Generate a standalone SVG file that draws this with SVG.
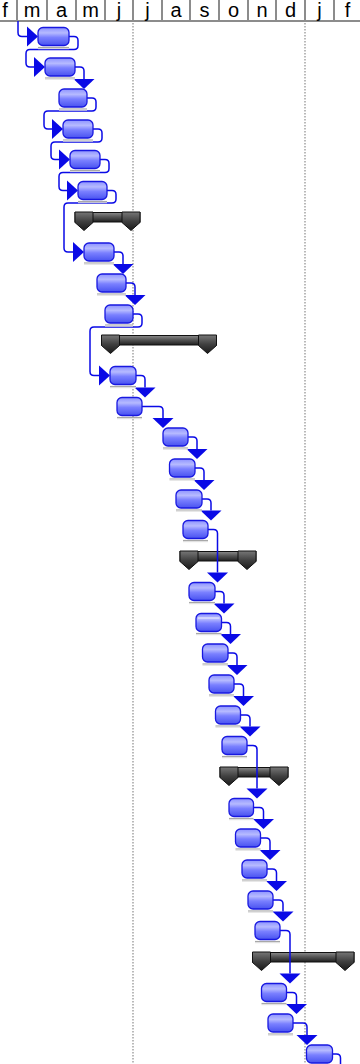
<svg xmlns="http://www.w3.org/2000/svg" width="360" height="1064" viewBox="0 0 360 1064">
<defs>
<linearGradient id="tg" x1="0" y1="0" x2="0" y2="1">
<stop offset="0" stop-color="#8d93ff"/>
<stop offset="0.3" stop-color="#b6baff"/>
<stop offset="0.55" stop-color="#7a80ff"/>
<stop offset="1" stop-color="#4852f0"/>
</linearGradient>
<linearGradient id="sg" x1="0" y1="0" x2="0" y2="1">
<stop offset="0" stop-color="#8c8c8c"/>
<stop offset="0.45" stop-color="#555"/>
<stop offset="1" stop-color="#1e1e1e"/>
</linearGradient>
<linearGradient id="cg" x1="0" y1="0" x2="0" y2="1">
<stop offset="0" stop-color="#777"/>
<stop offset="0.5" stop-color="#404040"/>
<stop offset="1" stop-color="#1a1a1a"/>
</linearGradient>
</defs>
<style>
.hdr{font-family:"Liberation Sans",Arial,sans-serif;font-size:20px;fill:#000;text-anchor:middle}
.sep{stroke:#8c8c8c;stroke-width:2}
.dot{stroke:#8c8c8c;stroke-width:1.2;stroke-dasharray:1.5 1.5}
.bar{fill:url(#tg);stroke:#1818e0;stroke-width:1.3}
.sh1{stroke:#a8a8a8;stroke-width:1.2}
.sh2{stroke:#dcdcdc;stroke-width:1}
.sbar{fill:url(#sg);stroke:#111;stroke-width:1}
.cap{fill:url(#cg);stroke:#111;stroke-width:1}
.ln{fill:none;stroke:#0a0ae6;stroke-width:1.5}
.ah{fill:#0a0ae6}
</style>
<rect x="0" y="0" width="360" height="1064" fill="#fff"/>
<g id="timescale">
<line class="sep" x1="17" y1="0" x2="17" y2="21"/>
<line class="sep" x1="47" y1="0" x2="47" y2="21"/>
<line class="sep" x1="76" y1="0" x2="76" y2="21"/>
<line class="sep" x1="105" y1="0" x2="105" y2="21"/>
<line class="sep" x1="133" y1="0" x2="133" y2="21"/>
<line class="sep" x1="162" y1="0" x2="162" y2="21"/>
<line class="sep" x1="190" y1="0" x2="190" y2="21"/>
<line class="sep" x1="219" y1="0" x2="219" y2="21"/>
<line class="sep" x1="248" y1="0" x2="248" y2="21"/>
<line class="sep" x1="276" y1="0" x2="276" y2="21"/>
<line class="sep" x1="305" y1="0" x2="305" y2="21"/>
<line class="sep" x1="334" y1="0" x2="334" y2="21"/>
<line class="sep" x1="0" y1="21" x2="360" y2="21"/>
<text class="hdr" x="5" y="17">f</text>
<text class="hdr" x="32" y="17">m</text>
<text class="hdr" x="61.5" y="17">a</text>
<text class="hdr" x="90.5" y="17">m</text>
<text class="hdr" x="119" y="17">j</text>
<text class="hdr" x="147.5" y="17">j</text>
<text class="hdr" x="176" y="17">a</text>
<text class="hdr" x="204.5" y="17">s</text>
<text class="hdr" x="233.5" y="17">o</text>
<text class="hdr" x="262" y="17">n</text>
<text class="hdr" x="290.5" y="17">d</text>
<text class="hdr" x="319.5" y="17">j</text>
<text class="hdr" x="347.5" y="17">f</text>
<line class="dot" x1="133" y1="23" x2="133" y2="1064"/>
<line class="dot" x1="305" y1="23" x2="305" y2="1064"/>
</g>
<g id="s1" transform="translate(75,221.5)"><rect class="sbar" x="0" y="-9" width="65" height="9.5"/><polygon class="cap" points="0,-9.5 18,-9.5 18,1 9,9 0,1"/><polygon class="cap" points="47,-9.5 65,-9.5 65,1 56,9 47,1"/></g>
<g id="s2" transform="translate(101.5,344.5)"><rect class="sbar" x="0" y="-9" width="115" height="9.5"/><polygon class="cap" points="0,-9.5 18,-9.5 18,1 9,9 0,1"/><polygon class="cap" points="97,-9.5 115,-9.5 115,1 106,9 97,1"/></g>
<g id="s3" transform="translate(180,560.5)"><rect class="sbar" x="0" y="-9" width="76" height="9.5"/><polygon class="cap" points="0,-9.5 18,-9.5 18,1 9,9 0,1"/><polygon class="cap" points="58,-9.5 76,-9.5 76,1 67,9 58,1"/></g>
<g id="s4" transform="translate(220,776.5)"><rect class="sbar" x="0" y="-9" width="68" height="9.5"/><polygon class="cap" points="0,-9.5 18,-9.5 18,1 9,9 0,1"/><polygon class="cap" points="50,-9.5 68,-9.5 68,1 59,9 50,1"/></g>
<g id="s5" transform="translate(252.5,961.5)"><rect class="sbar" x="0" y="-9" width="101.5" height="9.5"/><polygon class="cap" points="0,-9.5 18,-9.5 18,1 9,9 0,1"/><polygon class="cap" points="83.5,-9.5 101.5,-9.5 101.5,1 92.5,9 83.5,1"/></g>
<g id="connectors">
<path class="ln" d="M18,21 V32.5 Q18,36.5 22,36.5 H28"/><polygon class="ah" points="27,26.5 38,36.5 27,46.5"/>
<path class="ln" d="M69,36.5 H74 Q78,36.5 78,40.5 V45.5 Q78,49.5 74,49.5 H30 Q26,49.5 26,53.5 V63 Q26,67 30,67 H35"/><polygon class="ah" points="34,57 45,67 34,77"/>
<path class="ln" d="M75,67 H80 Q84,67 84,71 V79"/><polygon class="ah" points="73.5,79 94.5,79 84,89"/>
<path class="ln" d="M87,98 H92 Q96,98 96,102 V107 Q96,111 92,111 H48 Q44,111 44,115 V125 Q44,129 48,129 H53"/><polygon class="ah" points="52,119 63,129 52,139"/>
<path class="ln" d="M93,129 H98 Q102,129 102,133 V138 Q102,142 98,142 H55 Q51,142 51,146 V155.5 Q51,159.5 55,159.5 H60"/><polygon class="ah" points="59,149.5 70,159.5 59,169.5"/>
<path class="ln" d="M100,159.5 H105 Q109,159.5 109,163.5 V168.5 Q109,172.5 105,172.5 H63 Q59,172.5 59,176.5 V186.5 Q59,190.5 63,190.5 H68"/><polygon class="ah" points="67,180.5 78,190.5 67,200.5"/>
<path class="ln" d="M107,190.5 H112 Q116,190.5 116,194.5 V199 Q116,203 112,203 H68 Q64,203 64,207 V248 Q64,252 68,252 H74"/><polygon class="ah" points="73,242 84,252 73,262"/>
<path class="ln" d="M114,252 H119 Q123,252 123,256 V264"/><polygon class="ah" points="112.5,264 133.5,264 123,274"/>
<path class="ln" d="M126,283 H131 Q135,283 135,287 V295"/><polygon class="ah" points="124.5,295 145.5,295 135,305"/>
<path class="ln" d="M133,314 H138 Q142,314 142,318 V323 Q142,327 138,327 H94 Q90,327 90,331 V371.5 Q90,375.5 94,375.5 H100"/><polygon class="ah" points="99,365.5 110,375.5 99,385.5"/>
<path class="ln" d="M136,375.5 H141 Q145,375.5 145,379.5 V387.5"/><polygon class="ah" points="134.5,387.5 155.5,387.5 145,397.5"/>
<path class="ln" d="M142,406.5 H159 Q163,406.5 163,410.5 V418"/><polygon class="ah" points="152.5,418 173.5,418 163,428"/>
<path class="ln" d="M188,437 H193 Q197,437 197,441 V449"/><polygon class="ah" points="186.5,449 207.5,449 197,459"/>
<path class="ln" d="M195,468 H200 Q204,468 204,472 V480"/><polygon class="ah" points="193.5,480 214.5,480 204,490"/>
<path class="ln" d="M202,499 H207 Q211,499 211,503 V510.5"/><polygon class="ah" points="200.5,510.5 221.5,510.5 211,520.5"/>
<path class="ln" d="M208,529.5 H213.5 Q217.5,529.5 217.5,533.5 V572.5"/><polygon class="ah" points="207,572.5 228,572.5 217.5,582.5"/>
<path class="ln" d="M215,591.5 H220 Q224,591.5 224,595.5 V603.5"/><polygon class="ah" points="213.5,603.5 234.5,603.5 224,613.5"/>
<path class="ln" d="M221.5,622.5 H226.5 Q230.5,622.5 230.5,626.5 V634"/><polygon class="ah" points="220,634 241,634 230.5,644"/>
<path class="ln" d="M228,653 H233 Q237,653 237,657 V665"/><polygon class="ah" points="226.5,665 247.5,665 237,675"/>
<path class="ln" d="M234,684 H239.5 Q243.5,684 243.5,688 V696"/><polygon class="ah" points="233,696 254,696 243.5,706"/>
<path class="ln" d="M240.5,715 H246 Q250,715 250,719 V726.5"/><polygon class="ah" points="239.5,726.5 260.5,726.5 250,736.5"/>
<path class="ln" d="M247,745.5 H253 Q257,745.5 257,749.5 V788.5"/><polygon class="ah" points="246.5,788.5 267.5,788.5 257,798.5"/>
<path class="ln" d="M253.5,807.5 H259.5 Q263.5,807.5 263.5,811.5 V819"/><polygon class="ah" points="253,819 274,819 263.5,829"/>
<path class="ln" d="M260.5,838 H266 Q270,838 270,842 V850"/><polygon class="ah" points="259.5,850 280.5,850 270,860"/>
<path class="ln" d="M267,869 H272.5 Q276.5,869 276.5,873 V881"/><polygon class="ah" points="266,881 287,881 276.5,891"/>
<path class="ln" d="M273,900 H279 Q283,900 283,904 V911.5"/><polygon class="ah" points="272.5,911.5 293.5,911.5 283,921.5"/>
<path class="ln" d="M280,930.5 H286 Q290,930.5 290,934.5 V973.5"/><polygon class="ah" points="279.5,973.5 300.5,973.5 290,983.5"/>
<path class="ln" d="M286.5,992.5 H292.5 Q296.5,992.5 296.5,996.5 V1004"/><polygon class="ah" points="286,1004 307,1004 296.5,1014"/>
<path class="ln" d="M293,1023 H303 Q307,1023 307,1027 V1035"/><polygon class="ah" points="296.5,1035 317.5,1035 307,1045"/>
<path class="ln" d="M332.5,1054 H336.5 Q340.5,1054 340.5,1058 V1064"/>
</g>
<g id="t1" transform="translate(38,36.5)"><line class="sh1" x1="0" y1="11" x2="31" y2="11"/><line class="sh2" x1="0" y1="12.2" x2="31" y2="12.2"/><rect class="bar" x="0" y="-9" width="31" height="18" rx="5"/></g>
<g id="t2" transform="translate(45,67)"><line class="sh1" x1="0" y1="11" x2="30" y2="11"/><line class="sh2" x1="0" y1="12.2" x2="30" y2="12.2"/><rect class="bar" x="0" y="-9" width="30" height="18" rx="5"/></g>
<g id="t3" transform="translate(59,98)"><line class="sh1" x1="0" y1="11" x2="28" y2="11"/><line class="sh2" x1="0" y1="12.2" x2="28" y2="12.2"/><rect class="bar" x="0" y="-9" width="28" height="18" rx="5"/></g>
<g id="t4" transform="translate(63,129)"><line class="sh1" x1="0" y1="11" x2="30" y2="11"/><line class="sh2" x1="0" y1="12.2" x2="30" y2="12.2"/><rect class="bar" x="0" y="-9" width="30" height="18" rx="5"/></g>
<g id="t5" transform="translate(70,159.5)"><line class="sh1" x1="0" y1="11" x2="30" y2="11"/><line class="sh2" x1="0" y1="12.2" x2="30" y2="12.2"/><rect class="bar" x="0" y="-9" width="30" height="18" rx="5"/></g>
<g id="t6" transform="translate(78,190.5)"><line class="sh1" x1="0" y1="11" x2="29" y2="11"/><line class="sh2" x1="0" y1="12.2" x2="29" y2="12.2"/><rect class="bar" x="0" y="-9" width="29" height="18" rx="5"/></g>
<g id="t7" transform="translate(84,252)"><line class="sh1" x1="0" y1="11" x2="30" y2="11"/><line class="sh2" x1="0" y1="12.2" x2="30" y2="12.2"/><rect class="bar" x="0" y="-9" width="30" height="18" rx="5"/></g>
<g id="t8" transform="translate(97,283)"><line class="sh1" x1="0" y1="11" x2="29" y2="11"/><line class="sh2" x1="0" y1="12.2" x2="29" y2="12.2"/><rect class="bar" x="0" y="-9" width="29" height="18" rx="5"/></g>
<g id="t9" transform="translate(105,314)"><line class="sh1" x1="0" y1="11" x2="28" y2="11"/><line class="sh2" x1="0" y1="12.2" x2="28" y2="12.2"/><rect class="bar" x="0" y="-9" width="28" height="18" rx="5"/></g>
<g id="t10" transform="translate(110,375.5)"><line class="sh1" x1="0" y1="11" x2="26" y2="11"/><line class="sh2" x1="0" y1="12.2" x2="26" y2="12.2"/><rect class="bar" x="0" y="-9" width="26" height="18" rx="5"/></g>
<g id="t11" transform="translate(117,406.5)"><line class="sh1" x1="0" y1="11" x2="25" y2="11"/><line class="sh2" x1="0" y1="12.2" x2="25" y2="12.2"/><rect class="bar" x="0" y="-9" width="25" height="18" rx="5"/></g>
<g id="t12" transform="translate(163,437)"><line class="sh1" x1="0" y1="11" x2="25" y2="11"/><line class="sh2" x1="0" y1="12.2" x2="25" y2="12.2"/><rect class="bar" x="0" y="-9" width="25" height="18" rx="5"/></g>
<g id="t13" transform="translate(169.5,468)"><line class="sh1" x1="0" y1="11" x2="25.5" y2="11"/><line class="sh2" x1="0" y1="12.2" x2="25.5" y2="12.2"/><rect class="bar" x="0" y="-9" width="25.5" height="18" rx="5"/></g>
<g id="t14" transform="translate(176,499)"><line class="sh1" x1="0" y1="11" x2="26" y2="11"/><line class="sh2" x1="0" y1="12.2" x2="26" y2="12.2"/><rect class="bar" x="0" y="-9" width="26" height="18" rx="5"/></g>
<g id="t15" transform="translate(183,529.5)"><line class="sh1" x1="0" y1="11" x2="25" y2="11"/><line class="sh2" x1="0" y1="12.2" x2="25" y2="12.2"/><rect class="bar" x="0" y="-9" width="25" height="18" rx="5"/></g>
<g id="t16" transform="translate(189,591.5)"><line class="sh1" x1="0" y1="11" x2="26" y2="11"/><line class="sh2" x1="0" y1="12.2" x2="26" y2="12.2"/><rect class="bar" x="0" y="-9" width="26" height="18" rx="5"/></g>
<g id="t17" transform="translate(196,622.5)"><line class="sh1" x1="0" y1="11" x2="25.5" y2="11"/><line class="sh2" x1="0" y1="12.2" x2="25.5" y2="12.2"/><rect class="bar" x="0" y="-9" width="25.5" height="18" rx="5"/><line x1="2" y1="-4.5" x2="23.5" y2="-4.5" stroke="#f4f4ff" stroke-width="1"/></g>
<g id="t18" transform="translate(202.5,653)"><line class="sh1" x1="0" y1="11" x2="25.5" y2="11"/><line class="sh2" x1="0" y1="12.2" x2="25.5" y2="12.2"/><rect class="bar" x="0" y="-9" width="25.5" height="18" rx="5"/></g>
<g id="t19" transform="translate(209,684)"><line class="sh1" x1="0" y1="11" x2="25" y2="11"/><line class="sh2" x1="0" y1="12.2" x2="25" y2="12.2"/><rect class="bar" x="0" y="-9" width="25" height="18" rx="5"/></g>
<g id="t20" transform="translate(215.5,715)"><line class="sh1" x1="0" y1="11" x2="25" y2="11"/><line class="sh2" x1="0" y1="12.2" x2="25" y2="12.2"/><rect class="bar" x="0" y="-9" width="25" height="18" rx="5"/></g>
<g id="t21" transform="translate(222,745.5)"><line class="sh1" x1="0" y1="11" x2="25" y2="11"/><line class="sh2" x1="0" y1="12.2" x2="25" y2="12.2"/><rect class="bar" x="0" y="-9" width="25" height="18" rx="5"/></g>
<g id="t22" transform="translate(229,807.5)"><line class="sh1" x1="0" y1="11" x2="24.5" y2="11"/><line class="sh2" x1="0" y1="12.2" x2="24.5" y2="12.2"/><rect class="bar" x="0" y="-9" width="24.5" height="18" rx="5"/></g>
<g id="t23" transform="translate(235.5,838)"><line class="sh1" x1="0" y1="11" x2="25" y2="11"/><line class="sh2" x1="0" y1="12.2" x2="25" y2="12.2"/><rect class="bar" x="0" y="-9" width="25" height="18" rx="5"/></g>
<g id="t24" transform="translate(242,869)"><line class="sh1" x1="0" y1="11" x2="25" y2="11"/><line class="sh2" x1="0" y1="12.2" x2="25" y2="12.2"/><rect class="bar" x="0" y="-9" width="25" height="18" rx="5"/></g>
<g id="t25" transform="translate(248,900)"><line class="sh1" x1="0" y1="11" x2="25" y2="11"/><line class="sh2" x1="0" y1="12.2" x2="25" y2="12.2"/><rect class="bar" x="0" y="-9" width="25" height="18" rx="5"/></g>
<g id="t26" transform="translate(255,930.5)"><line class="sh1" x1="0" y1="11" x2="25" y2="11"/><line class="sh2" x1="0" y1="12.2" x2="25" y2="12.2"/><rect class="bar" x="0" y="-9" width="25" height="18" rx="5"/></g>
<g id="t27" transform="translate(261.5,992.5)"><line class="sh1" x1="0" y1="11" x2="25" y2="11"/><line class="sh2" x1="0" y1="12.2" x2="25" y2="12.2"/><rect class="bar" x="0" y="-9" width="25" height="18" rx="5"/></g>
<g id="t28" transform="translate(268,1023)"><line class="sh1" x1="0" y1="11" x2="25" y2="11"/><line class="sh2" x1="0" y1="12.2" x2="25" y2="12.2"/><rect class="bar" x="0" y="-9" width="25" height="18" rx="5"/></g>
<g id="t29" transform="translate(306.5,1054)"><rect class="bar" x="0" y="-9" width="26" height="18" rx="5"/></g>
</svg>
